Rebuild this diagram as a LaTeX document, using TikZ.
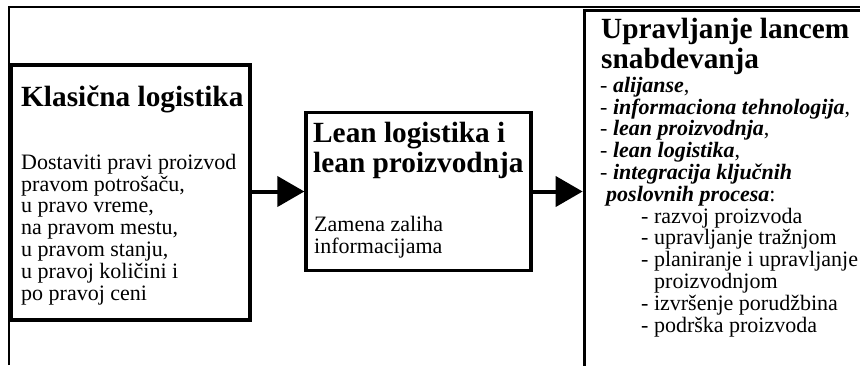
\documentclass[tikz,border=0pt]{standalone}
\usepackage{fontspec}
\setmainfont{Liberation Serif}
\usetikzlibrary{arrows.meta}

\newcommand{\ttlfont}{\fontsize{29.3}{30}\selectfont\bfseries}
\newcommand{\txtfont}{\fontsize{22}{21.8}\selectfont}
\newcommand{\bitem}[1]{\textbf{\textit{#1}}}

\begin{document}
\begin{tikzpicture}[
    x=1pt, y=1pt,
    stage/.style={draw, line width=3.3pt, inner sep=0pt},
    ttl/.style={font=\ttlfont, align=left, anchor=base west, inner sep=0pt},
    txt/.style={font=\txtfont, align=left, anchor=base west, inner sep=0pt},
    link/.style={line width=4pt, -{Triangle[length=27pt,width=30pt]}}
]

\clip (0,0) rectangle (860,-365);

% outer frame
\draw[line width=1.7pt] (8.8,-365) |- (860,-6.8);

% stages
\node[stage, minimum width=238.3, minimum height=255] (klas) at (130.85,-192.5) {};
\node[stage, minimum width=225, minimum height=158] (lean) at (418.5,-191.5) {};
\node[stage, minimum width=400, minimum height=400] (scm) at (784.3,-210.5) {};

% texts (anchored at the baseline of their last line)
\node[ttl] (klasttl) at (21,-106) {Klasična logistika};
\node[txt] (klastxt) at (21,-300.1) {Dostaviti pravi proizvod\\
    pravom potrošaču,\\ u pravo vreme,\\ na pravom mestu,\\
    u pravom stanju,\\ u pravoj količini i\\ po pravoj ceni};

\node[ttl] (leanttl) at (313,-172.5) {Lean logistika i\\ lean proizvodnja};
\node[txt] (leantxt) at (314,-253) {Zamena zaliha\\ informacijama};

\node[ttl] (scmttl) at (601,-68.5) {Upravljanje lancem\\ snabdevanja};
\node[txt] (scmtxt) at (600,-332) {- \bitem{alijanse},\\
    - \bitem{informaciona tehnologija},\\
    - \bitem{lean proizvodnja},\\
    - \bitem{lean logistika},\\
    - \bitem{integracija ključnih}\\
    \hspace*{6pt}\bitem{poslovnih procesa}:\\
    \hspace*{41pt}- razvoj proizvoda\\
    \hspace*{41pt}- upravljanje tražnjom\\
    \hspace*{41pt}- planiranje i upravljanje\\
    \hspace*{54pt}proizvodnjom\\
    \hspace*{41pt}- izvršenje porudžbina\\
    \hspace*{41pt}- podrška proizvoda};

% arrows
\draw[link] (lean.west -| klas.east) -- (lean.west);
\draw[link] (lean.east) -- (lean.east -| scm.west);

\end{tikzpicture}
\end{document}
